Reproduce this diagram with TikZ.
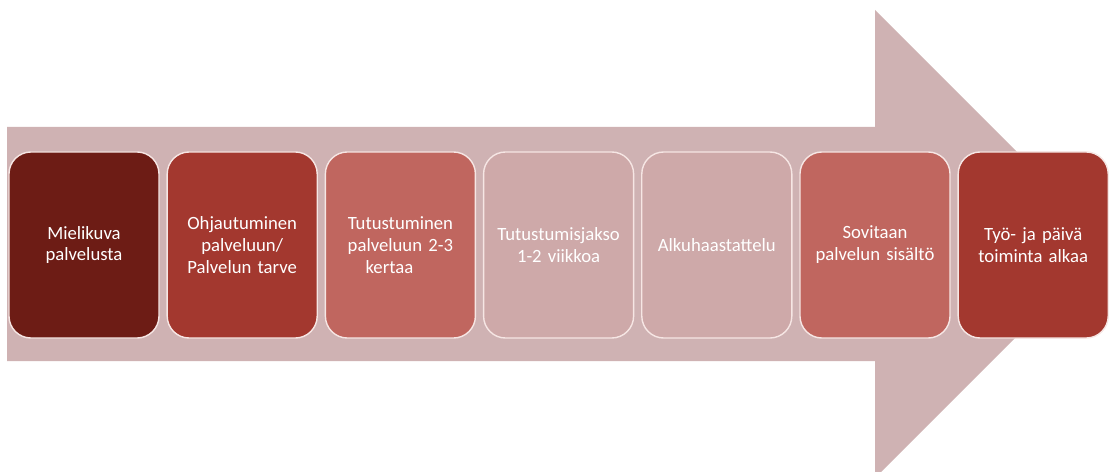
\documentclass[tikz,border=0pt]{standalone}
\usepackage{fontspec}
\setmainfont{Carlito}

\definecolor{arrowpink}{HTML}{CFB2B3}
\definecolor{stepdark}{HTML}{6D1C15}
\definecolor{stepred}{HTML}{A3382F}
\definecolor{steprose}{HTML}{C0665F}
\definecolor{steppale}{HTML}{CEA9A9}
\definecolor{stepline}{HTML}{F6E6E4}

\tikzset{
  stepbox/.style={rounded corners=0.55cm, draw=stepline, line width=1pt,
    fill=#1, text=white, minimum width=3.75cm, minimum height=4.65cm,
    text width=3.6cm, align=center, inner sep=0pt,
    font=\fontsize{13.3}{15.6}\selectfont}
}

\begin{document}
\begin{tikzpicture}[x=0.025cm, y=-0.025cm]
\useasboundingbox (0,0) rectangle (1110,472);

% Draw the big arrow
\fill[arrowpink] (7,127) -- (875,127) -- (875,10) -- (1109,244)
  -- (875,478) -- (875,361) -- (7,361) -- cycle;

% Draw the steps
\foreach \i/\col/\txt in {
    0/stepdark/{Mielikuva\\palvelusta},
    1/stepred/{Ohjautuminen\\palveluun/\\Palvelun tarve},
    2/steprose/{Tutustuminen\\palveluun 2-3\\kertaa\hspace*{0.55cm}},
    3/steppale/{Tutustumisjakso\\1-2 viikkoa},
    4/steppale/{Alkuhaastattelu},
    5/steprose/{Sovitaan\\palvelun sisältö},
    6/stepred/{Työ- ja päivä\\toiminta alkaa}} {
    \node[stepbox=\col] (step\i) at (84+158.2*\i, 245) {\txt};
}

\end{tikzpicture}
\end{document}
